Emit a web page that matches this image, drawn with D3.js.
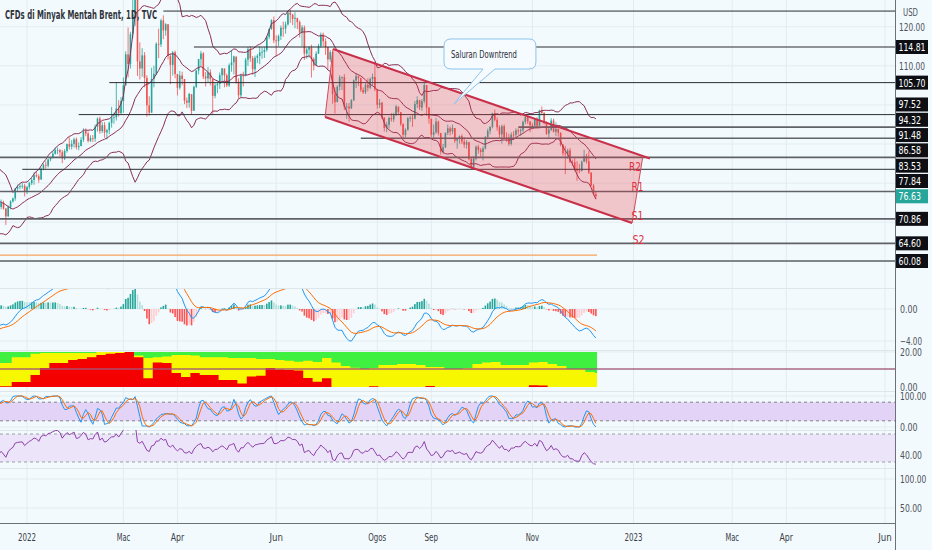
<!DOCTYPE html>
<html><head><meta charset="utf-8">
<script src="https://cdn.jsdelivr.net/npm/d3@7"></script>
<style>
html,body{margin:0;padding:0;background:#f3fafd;}
svg{display:block;font-family:"Liberation Sans Narrow","DejaVu Sans Condensed","Liberation Sans","Roboto",sans-serif;}
</style></head><body>
<svg id="c" width="932" height="550"></svg>
<script>
// ---------------- DATA ----------------
// closes used only to warm up indicators (Oct 18 - Dec 10 2021), not drawn
const warmup = [84.33,85.08,85.82,84.61,85.53,85.99,86.40,84.58,84.32,84.38,84.71,84.72,81.99,80.54,82.74,83.43,84.78,82.64,82.87,82.17,
82.05,82.43,80.28,81.24,78.89,79.70,82.31,82.25,82.2,72.72,73.44,70.57,68.87,69.67,69.88,73.08,75.44,75.82,75.15,75.15];
const firstOpen = 74.9;
// daily bars, Dec 13 2021 .. Dec 8 2022 (bar index 0..256)
const closes = [
74.4,73.7,73.9,75.0,73.5,71.5,73.9,75.3,76.1,78.6,79.0,79.2,79.3,77.8,
78.98,80.0,80.8,82.0,81.75,80.87,83.72,84.67,84.47,86.06,86.5,87.5,88.4,88.4,87.9,86.3,88.2,89.96,89.34,90.03,91.2,
89.2,89.5,91.1,93.3,92.7,90.8,91.55,91.4,94.4,96.5,93.3,94.8,92.97,93.54,95.4,96.8,96.84,99.08,97.9,100.99,
104.97,112.93,110.46,118.11,123.21,127.98,111.14,109.33,112.67,106.9,99.91,98.02,106.64,107.93,115.62,115.48,121.6,119.03,120.65,112.48,110.23,113.45,107.91,
104.39,107.53,106.64,101.07,100.58,102.78,98.48,104.64,108.78,111.70,113.16,107.25,106.8,108.33,106.65,102.32,104.99,105.32,107.59,109.34,
107.58,104.97,110.14,110.9,112.39,105.94,102.46,107.51,107.45,111.55,114.24,111.93,109.11,112.04,112.55,113.42,113.56,114.03,117.40,119.43,121.67,116.5,
116.29,117.61,119.72,119.51,120.57,123.58,123.07,122.01,122.27,121.17,118.51,119.81,113.12,114.13,114.65,111.74,110.05,113.12,115.09,117.98,116.26,114.81,
111.63,113.50,102.77,100.69,104.65,107.02,107.10,99.49,99.57,99.10,101.16,106.27,107.35,106.92,103.86,103.20,105.15,104.40,106.62,107.14,103.97,
100.03,100.54,96.78,94.12,94.92,96.65,96.31,97.40,99.60,98.15,95.10,92.34,93.65,96.59,96.72,96.48,100.22,101.22,99.34,100.99,105.09,99.31,96.49,
92.36,93.02,95.74,92.83,88.00,89.15,92.84,94.00,93.17,94.10,90.84,91.35,92.00,90.62,89.83,90.46,86.15,84.06,86.27,89.32,88.49,87.96,
88.86,91.80,93.37,94.42,97.92,96.19,94.29,92.45,94.57,91.63,91.62,90.03,92.41,92.38,93.50,93.26,93.52,95.69,96.96,95.77,94.83,
94.65,96.16,94.67,98.57,97.92,95.36,92.65,93.67,95.99,93.14,93.86,92.86,89.78,87.62,87.45,88.36,85.41,85.34,83.63,83.19,83.03,85.43,
86.88,85.57,82.68,79.35,77.17,76.63];
const highs = [
75.6,75.0,74.5,75.8,75.5,73.6,74.3,75.6,76.3,78.8,79.6,79.8,80.0,79.8,
79.3,80.3,81.3,82.8,83.0,82.3,84.0,85.0,85.6,86.2,86.7,88.1,89.1,89.1,88.7,88.5,88.7,90.1,91.7,91.0,91.6,
91.7,90.4,91.8,94.0,94.0,93.2,92.2,92.3,95.0,96.8,97.0,95.6,95.6,93.9,95.7,99.5,98.0,105.8,101.2,102.0,
107.0,113.7,119.8,118.7,139.1,131.6,124.6,116.0,114.5,113.5,107.6,102.2,109.5,110.0,116.0,119.5,122.0,122.9,120.9,120.5,113.0,113.8,113.9,
105.9,108.7,108.5,106.5,101.9,103.1,102.5,104.9,109.0,111.7,113.8,113.5,108.4,109.7,109.1,105.6,105.6,106.0,108.3,109.4,
109.0,108.0,110.6,114.0,112.6,112.0,106.8,108.0,108.5,112.0,114.8,115.0,112.5,112.6,113.0,115.0,114.7,114.8,117.6,119.5,121.9,122.6,
117.8,118.0,120.3,121.3,121.3,124.0,124.4,123.3,123.7,122.0,121.6,120.4,120.3,114.6,115.0,115.4,112.2,113.7,115.6,118.5,118.5,117.0,
114.8,114.0,113.5,104.5,105.0,107.6,107.3,107.9,100.5,100.5,101.5,106.5,108.0,107.5,106.3,104.5,105.6,106.8,107.0,108.0,110.6,
103.9,101.5,100.8,96.8,95.6,97.0,97.9,98.0,100.0,99.4,98.1,95.3,94.0,96.9,97.2,97.6,101.0,102.2,101.3,101.5,105.6,104.6,99.5,
95.6,95.0,96.7,96.0,92.5,90.0,93.0,95.0,94.5,95.0,94.0,91.6,92.2,92.5,91.8,91.0,90.6,86.7,86.9,89.6,89.8,89.0,
89.4,92.0,93.9,94.5,98.0,98.8,96.8,94.8,94.9,95.0,93.0,92.6,93.0,93.3,94.0,94.0,94.0,96.0,97.0,97.3,95.8,
95.4,96.5,96.9,98.8,99.6,98.2,95.8,94.4,96.6,96.5,95.5,94.0,93.0,90.0,89.5,88.8,89.0,86.0,86.5,85.6,84.9,85.8,
88.5,87.5,88.2,82.8,79.8,77.8];
const lows = [
73.8,72.9,72.7,73.3,73.2,69.3,71.4,73.3,75.0,75.5,78.0,78.4,78.6,76.6,
77.2,78.4,79.5,79.6,81.4,80.1,81.0,83.3,83.7,84.0,85.6,86.3,87.3,87.4,86.8,85.1,85.9,87.8,88.6,88.6,89.1,
88.6,88.4,89.4,90.5,92.0,90.4,90.5,90.5,90.6,93.2,92.6,92.8,91.6,91.2,92.5,94.2,95.2,96.0,97.0,97.5,
98.0,105.3,107.0,109.3,117.0,120.2,107.4,106.5,107.2,104.5,97.0,97.3,98.0,104.5,107.6,112.0,114.8,116.8,117.7,111.6,105.3,107.5,106.8,
102.4,103.9,105.0,100.2,99.2,99.3,97.5,98.6,104.3,107.8,110.0,106.6,104.7,105.7,105.0,97.7,101.7,103.0,104.1,106.0,
104.5,104.6,104.6,108.5,107.8,105.4,101.7,101.9,104.7,107.3,110.0,111.0,107.7,107.1,110.7,110.4,111.8,112.0,113.6,116.8,119.2,115.8,
112.5,115.0,116.6,117.4,118.2,120.3,121.0,120.4,119.6,119.4,117.2,115.0,111.5,111.8,112.1,107.0,108.8,110.6,113.0,114.6,115.0,112.8,
109.0,111.0,100.3,97.8,100.8,103.7,103.8,98.7,96.4,95.7,99.0,101.0,104.3,104.8,103.3,102.8,102.8,103.5,104.0,105.0,103.5,
99.0,99.2,96.4,93.2,93.0,94.0,95.7,95.6,97.2,97.4,94.6,91.5,91.6,93.4,95.7,94.4,96.3,99.2,98.7,98.5,100.4,97.2,95.2,
91.7,91.5,92.6,92.2,87.3,87.5,89.0,92.3,92.2,92.5,90.3,88.8,90.1,90.0,89.0,88.8,85.8,83.6,84.6,85.8,87.5,86.8,
85.8,88.6,91.2,92.5,94.0,95.8,93.4,91.6,90.1,91.4,90.6,89.5,89.6,91.0,91.3,92.4,92.1,93.0,95.1,95.1,93.0,
94.0,94.6,94.3,94.6,97.4,95.0,92.3,91.4,93.3,92.9,92.0,91.9,89.4,87.0,82.3,86.2,85.1,84.4,83.0,80.6,82.5,83.6,
85.5,85.0,82.3,79.2,76.9,76.0];

// sentiment pane, one value per group of 4 bars (0..20 scale)
const sentGroup = 4;
const sentRed = [0.5,0.5,2.9,2.9,6.9,10.9,13.7,13.7,15.4,16,
17,18.3,19,19.4,20,17,5,14,13.7,8,
5.7,8,6.9,6.9,4,4,2,6,6.5,10.9,
10,9.7,9.5,5.1,3,5,0,0,0,0,
0.5,0,0,0,0,0,0.6,0,0,0,
0,0,0,0,0,0,0,1,0.8,0,
0,0,0,0,0];
const sentYellow = [13.7,13.7,17,17,19,19.4,19.4,19.4,19.4,19.4,
19.4,20,20,20,20,18,16.6,17,17.5,18.3,
18.3,18,17,17,17,16.6,16.6,16.6,16,16,
15.5,15,14.5,15,14.3,16.6,14,12,11,10.3,
10.9,12.6,12.6,13.1,13.1,12.6,11.4,11.4,10.3,10.3,
10.9,13.1,14,14.3,12.6,12.6,12.6,14,14.3,13.1,
12,10.3,10.3,8.6,8];
const sentLevel = 10.3;

// time axis (bar index of each label)
const timeTickIdx = [14,55,78,120,163,186,229,272,314,337,379];
const timeTickLab = ["2022","Mac","Apr","Jun","Ogos","Sep","Nov","2023","Mac","Apr","Jun"];

// drawn horizontal levels: price, start bar index, heavy style
const levelPrice = [124.0,114.81,105.70,97.52,94.32,91.48,86.58,83.53,77.84,70.86,64.60,60.08];
const levelStart = [72,85,49,36,223,156,-6,12,-6,-6,-6,-6];
const levelHeavy = [0,0,0,0,1,1,1,0,1,1,1,1];
const levelLabeled = [0,1,1,1,1,1,1,1,1,1,1,1];
const orangeLevel = 61.6;

// channel corners (bar index, price)
const channelIdx = [144.2,276.0,271.4,140.8];
const channelPx = [114.3,86.93,69.8,96.9];
const channelTail = [279,86.3];

const rsText = ["R2","R1","S1","S2"];
const rsIdx = [272.6,273.7,273.7,274.1];
const rsPx = [83.1,77.98,70.56,64.43];

// callout: left, right idx; top, bottom price; tail base idx; tip
const callBox = [191.4,230.5,116.86,109.18];
const callTail = [208.0,213.1,195.6,100.23];
const callText = "Saluran Downtrend";
const callTextPos = [208.4,112.0];

const priceGrid = [120,110,100,90,80,70,60];
const title = "CFDs di Minyak Mentah Brent, 1D, TVC";

// ---------------- SETUP ----------------
const W=932,H=550,PR=895,N=closes.length;
const svg=d3.select("#c");
const BG="#f3fafd", GRID="#e2ecf0";
svg.append("rect").attr("width",W).attr("height",H).attr("fill",BG);

const xs=d3.scaleLinear().domain([14,379]).range([27,885]);
const yP=d3.scaleLinear().domain([114.81,60.08]).range([47,261]);
const yM=d3.scaleLinear().domain([0,-4]).range([309,341]);
const yS=d3.scaleLinear().domain([0,20]).range([387,352]);
const yK=d3.scaleLinear().domain([0,100]).range([427,396]);
const yR=d3.scaleLinear().domain([30,70]).range([462,434]);
const yE=d3.scaleLinear().domain([50,100]).range([508,479]);

const defs=svg.append("defs");
function clip(id,y0,y1){defs.append("clipPath").attr("id",id).append("rect").attr("x",0).attr("y",y0).attr("width",PR).attr("height",y1-y0);}
clip("cp",0,287);clip("cm",289,350);clip("ck",391,430);clip("cr",430,468);

// ---------------- INDICATORS ----------------
const all=warmup.concat(closes), W0=warmup.length;
function sma(a,n){return a.map((v,i)=>{if(i<n-1)return null;let s=0;for(let j=i-n+1;j<=i;j++){if(a[j]==null)return null;s+=a[j];}return s/n;});}
function stdev(a,n){return a.map((v,i)=>{if(i<n-1)return null;const w=a.slice(i-n+1,i+1);const m=d3.mean(w);return Math.sqrt(d3.mean(w,x=>(x-m)*(x-m)));});}
function ema(a,n){const k=2/(n+1);let prev=null;const buf=[];return a.map(v=>{if(v==null)return null;if(prev==null){buf.push(v);if(buf.length===n){prev=d3.mean(buf);return prev;}return null;}prev=v*k+prev*(1-k);return prev;});}
function rsiF(a,n){const out=[null];let ag=0,al=0;for(let i=1;i<a.length;i++){const ch=a[i]-a[i-1],g=Math.max(ch,0),l=Math.max(-ch,0);if(i<=n){ag+=g/n;al+=l/n;out.push(i===n?(al===0?100:100-100/(1+ag/al)):null);}else{ag=(ag*(n-1)+g)/n;al=(al*(n-1)+l)/n;out.push(al===0?100:100-100/(1+ag/al));}}return out;}
const basis=sma(all,20), sd=stdev(all,20);
const bbU=basis.map((b,i)=>b==null?null:b+2*sd[i]), bbL=basis.map((b,i)=>b==null?null:b-2*sd[i]);
const e12=ema(all,12),e26=ema(all,26);
const macd=all.map((v,i)=>e12[i]==null||e26[i]==null?null:e12[i]-e26[i]);
const sig=ema(macd,9);
const hist=macd.map((m,i)=>m==null||sig[i]==null?null:m-sig[i]);
const rsi=rsiF(all,14);
const stoch=rsi.map((r,i)=>{if(i<13)return null;const w=rsi.slice(i-13,i+1);if(w.some(v=>v==null))return null;const lo=d3.min(w),hi=d3.max(w);return hi===lo?0:(r-lo)/(hi-lo)*100;});
const kS=sma(stoch,3), dS=sma(kS,3);
const cut=a=>a.slice(W0);
const B_U=cut(bbU),B_M=cut(basis),B_L=cut(bbL),MACD=cut(macd),SIG=cut(sig),HIST=cut(hist),RSI=cut(rsi),K=cut(kS),D=cut(dS);
const HISTprev=hist.slice(W0-1,W0-1+N);

// ---------------- GRID ----------------
const g=svg.append("g");
g.selectAll(".vg").data(timeTickIdx).join("line").attr("x1",d=>xs(d)).attr("x2",d=>xs(d)).attr("y1",0).attr("y2",523).attr("stroke",GRID);
g.selectAll(".hg").data(priceGrid).join("line").attr("x1",0).attr("x2",PR).attr("y1",d=>yP(d)).attr("y2",d=>yP(d)).attr("stroke",GRID);
const paneGrid=[yM(0),yM(-4),yS(20),yK(100),yK(0),yR(40),yE(100),yE(50)];
g.selectAll(".pg").data(paneGrid).join("line").attr("x1",0).attr("x2",PR).attr("y1",d=>d).attr("y2",d=>d).attr("stroke",GRID);
const seps=[288,350,391,430,468];
g.selectAll(".sp").data(seps).join("line").attr("x1",0).attr("x2",PR).attr("y1",d=>d+0.5).attr("y2",d=>d+0.5).attr("stroke","#dde6ea");

// ---------------- PRICE PANE ----------------
const pp=svg.append("g").attr("clip-path","url(#cp)");
const opens=closes.map((c,i)=>i===0?firstOpen:closes[i-1]);
const UP="#26a69a",DN="#ef5350";
const bars=d3.range(N);
pp.selectAll(".wk").data(bars).join("line")
 .attr("x1",i=>xs(i)).attr("x2",i=>xs(i)).attr("y1",i=>yP(highs[i])).attr("y2",i=>yP(lows[i]))
 .attr("stroke",i=>closes[i]>=opens[i]?UP:DN).attr("stroke-width",0.8);
pp.selectAll(".bd").data(bars).join("rect")
 .attr("x",i=>xs(i)-0.8).attr("width",1.6)
 .attr("y",i=>yP(Math.max(opens[i],closes[i])))
 .attr("height",i=>Math.max(0.8,Math.abs(yP(opens[i])-yP(closes[i]))))
 .attr("fill",i=>closes[i]>=opens[i]?UP:DN);

const lineOf=(arr,ys)=>d3.line().defined((d,i)=>arr[i]!=null).x((d,i)=>xs(i)).y((d,i)=>ys(arr[i]));
[B_U,B_M,B_L].forEach(a=>pp.append("path").datum(a).attr("d",lineOf(a,yP)).attr("fill","none").attr("stroke","#8b2f56").attr("stroke-width",1));

// horizontal levels
const lv=d3.range(levelPrice.length);
pp.selectAll(".lv").data(lv).join("line")
 .attr("x1",i=>Math.max(0,xs(levelStart[i]))).attr("x2",PR)
 .attr("y1",i=>yP(levelPrice[i])).attr("y2",i=>yP(levelPrice[i]))
 .attr("stroke",i=>levelHeavy[i]?"#5f6268":"#2a2d33").attr("stroke-width",i=>levelHeavy[i]?1.6:1);
pp.append("line").attr("x1",0).attr("x2",xs(N-0.5)).attr("y1",yP(orangeLevel)).attr("y2",yP(orangeLevel)).attr("stroke","#f7a35c").attr("stroke-width",1.2);

// channel
const cpts=channelIdx.map((v,i)=>[xs(v),yP(channelPx[i])]);
pp.append("polygon").attr("points",cpts.map(p=>p.join(",")).join(" ")).attr("fill","rgba(232,60,72,0.27)").attr("stroke","none");
pp.append("line").attr("x1",cpts[0][0]).attr("y1",cpts[0][1]).attr("x2",xs(channelTail[0])).attr("y2",yP(channelTail[1])).attr("stroke","#c8304a").attr("stroke-width",2);
pp.append("line").attr("x1",cpts[3][0]).attr("y1",cpts[3][1]).attr("x2",cpts[2][0]).attr("y2",cpts[2][1]).attr("stroke","#c8304a").attr("stroke-width",2);
pp.append("line").attr("x1",cpts[0][0]).attr("y1",cpts[0][1]).attr("x2",cpts[3][0]).attr("y2",cpts[3][1]).attr("stroke","#d24a5e").attr("stroke-width",1);
pp.append("line").attr("x1",cpts[1][0]).attr("y1",cpts[1][1]).attr("x2",cpts[2][0]).attr("y2",cpts[2][1]).attr("stroke","#d24a5e").attr("stroke-width",1);

// R/S labels
pp.selectAll(".rs").data(d3.range(rsText.length)).join("text")
 .attr("x",i=>xs(rsIdx[i])).attr("y",i=>yP(rsPx[i])).attr("text-anchor","middle")
 .attr("font-size",12).attr("fill","#e0303c").attr("textLength",12).attr("lengthAdjust","spacingAndGlyphs").text(i=>rsText[i]);

// callout
{
 const L=xs(callBox[0]),R=xs(callBox[1]),T=yP(callBox[2]),Bm=yP(callBox[3]),r=7;
 const t1=xs(callTail[0]),t2=xs(callTail[1]),tx=xs(callTail[2]),ty=yP(callTail[3]);
 const p=d3.path();
 p.moveTo(L+r,T);p.lineTo(R-r,T);p.quadraticCurveTo(R,T,R,T+r);p.lineTo(R,Bm-r);p.quadraticCurveTo(R,Bm,R-r,Bm);
 p.lineTo(t2,Bm);p.lineTo(tx,ty);p.lineTo(t1,Bm);p.lineTo(L+r,Bm);p.quadraticCurveTo(L,Bm,L,Bm-r);p.lineTo(L,T+r);p.quadraticCurveTo(L,T,L+r,T);p.closePath();
 pp.append("path").attr("d",p.toString()).attr("fill","#f5fbfe").attr("stroke","#8fc3ea").attr("stroke-width",1);
 pp.append("text").attr("x",xs(callTextPos[0])).attr("y",yP(callTextPos[1])).attr("text-anchor","middle").attr("font-size",11)
  .attr("fill","#2b2f38").attr("textLength",66).attr("lengthAdjust","spacingAndGlyphs").text(callText);
}

// ---------------- MACD PANE ----------------
const pm=svg.append("g").attr("clip-path","url(#cm)");
pm.selectAll(".hb").data(bars.filter(i=>HIST[i]!=null)).join("rect")
 .attr("x",i=>xs(i)-0.8).attr("width",1.6)
 .attr("y",i=>Math.min(yM(0),yM(HIST[i]))).attr("height",i=>Math.abs(yM(HIST[i])-yM(0)))
 .attr("fill",i=>{const h=HIST[i],pv=HISTprev[i];const rising=pv==null?true:h>pv;return h>=0?(rising?"#26a69a":"#b2dfdb"):(rising?"#ffcdd2":"#ff5252");});
pm.append("path").datum(MACD).attr("d",lineOf(MACD,yM)).attr("fill","none").attr("stroke","#2196f3").attr("stroke-width",1);
pm.append("path").datum(SIG).attr("d",lineOf(SIG,yM)).attr("fill","none").attr("stroke","#ff6d00").attr("stroke-width",1);

// ---------------- SENTIMENT PANE ----------------
const ps=svg.append("g");
const G=sentRed.length;
const sx=gi=>xs(gi*sentGroup-0.5);
const sPts=d3.range(G+1).map(gi=>({x:Math.min(sx(gi),xs(N-0.5)),r:sentRed[Math.min(gi,G-1)],y:sentYellow[Math.min(gi,G-1)]}));
ps.append("rect").attr("x",Math.max(0,sx(0))).attr("width",xs(N-0.5)-Math.max(0,sx(0))).attr("y",yS(20)).attr("height",yS(0)-yS(20)).attr("fill","#3ff041");
ps.append("path").datum(sPts).attr("d",d3.area().curve(d3.curveStepAfter).x(d=>d.x).y0(yS(0)).y1(d=>yS(d.y))).attr("fill","#f7f700");
ps.append("path").datum(sPts).attr("d",d3.area().curve(d3.curveStepAfter).x(d=>d.x).y0(yS(0)).y1(d=>yS(d.r))).attr("fill","#f50000");
ps.append("line").attr("x1",0).attr("x2",PR).attr("y1",yS(sentLevel)).attr("y2",yS(sentLevel)).attr("stroke","#a0597a").attr("stroke-width",1.5).attr("opacity",0.9);

// ---------------- STOCH RSI PANE ----------------
svg.append("rect").attr("x",0).attr("width",PR).attr("y",yK(80)).attr("height",yK(20)-yK(80)).attr("fill","#e2d3f7");
[80,20].forEach(v=>svg.append("line").attr("x1",0).attr("x2",PR).attr("y1",yK(v)).attr("y2",yK(v)).attr("stroke","#80838d").attr("stroke-dasharray","3,3"));
const pk=svg.append("g").attr("clip-path","url(#ck)");
pk.append("path").datum(K).attr("d",lineOf(K,yK)).attr("fill","none").attr("stroke","#2196f3").attr("stroke-width",1);
pk.append("path").datum(D).attr("d",lineOf(D,yK)).attr("fill","none").attr("stroke","#ff6d00").attr("stroke-width",1);

// ---------------- RSI PANE ----------------
svg.append("rect").attr("x",0).attr("width",PR).attr("y",yR(70)).attr("height",yR(30)-yR(70)).attr("fill","#ece5fa");
[70,30].forEach(v=>svg.append("line").attr("x1",0).attr("x2",PR).attr("y1",yR(v)).attr("y2",yR(v)).attr("stroke","#9a9da6").attr("stroke-dasharray","3,3"));
const pr=svg.append("g").attr("clip-path","url(#cr)");
pr.append("path").datum(RSI).attr("d",lineOf(RSI,yR)).attr("fill","none").attr("stroke","#8e3fa8").attr("stroke-width",1);

// ---------------- AXES ----------------
svg.append("rect").attr("x",PR).attr("y",0).attr("width",W-PR).attr("height",H).attr("fill",BG);
svg.append("line").attr("x1",PR+0.5).attr("x2",PR+0.5).attr("y1",0).attr("y2",H).attr("stroke","#6d7079");
svg.append("line").attr("x1",0).attr("x2",PR).attr("y1",523.5).attr("y2",523.5).attr("stroke","#6d7079");

const AX="#4e525c";
svg.selectAll(".tl").data(d3.range(timeTickIdx.length)).join("text")
 .attr("x",i=>xs(timeTickIdx[i])).attr("y",541).attr("text-anchor","middle").attr("font-size",10.5).attr("fill","#3a3e47")
 .attr("textLength",i=>timeTickLab[i].length*4.5).attr("lengthAdjust","spacingAndGlyphs").text(i=>timeTickLab[i]);

// price boxes with stacking
const boxes=lv.filter(i=>levelLabeled[i]).map(i=>({p:levelPrice[i],c:"#0d0f14"}));
boxes.push({p:closes[N-1],c:"#26a69a"});
boxes.sort((a,b)=>a.p-b.p);
let prevY=1e9;
boxes.forEach(b=>{b.y=Math.min(yP(b.p),prevY-15.3);prevY=b.y;});
const fmt=d3.format(".2f");
const bx=svg.append("g");
bx.selectAll("rect").data(boxes).join("rect").attr("x",PR+1).attr("y",d=>d.y-7).attr("width",32).attr("height",14).attr("fill",d=>d.c);
bx.selectAll("text").data(boxes).join("text").attr("x",PR+3.5).attr("y",d=>d.y+4).attr("font-size",10).attr("fill","#fff")
 .attr("textLength",d=>fmt(d.p).length*4.5).attr("lengthAdjust","spacingAndGlyphs").text(d=>fmt(d.p));

const freeTicks=priceGrid.filter(p=>boxes.every(b=>Math.abs(b.y-yP(p))>9));
svg.selectAll(".pt").data(freeTicks).join("text").attr("x",PR+4).attr("y",d=>yP(d)+4).attr("font-size",10).attr("fill",AX)
 .attr("textLength",26).attr("lengthAdjust","spacingAndGlyphs").text(d=>fmt(d));
svg.append("text").attr("x",PR+8).attr("y",16).attr("font-size",10).attr("fill",AX).attr("textLength",15).attr("lengthAdjust","spacingAndGlyphs").text("USD");

const paneLabels=[[yM(0),0],[yM(-4),-4],[yS(20),20],[yS(0),0],[yK(100),100],[yK(0),0],[yR(40),40],[yE(100),100],[yE(50),50]];
svg.selectAll(".pl").data(paneLabels).join("text").attr("x",PR+5).attr("y",d=>d[0]+4).attr("font-size",10).attr("fill",AX)
 .attr("textLength",d=>fmt(d[1]).length*4.4).attr("lengthAdjust","spacingAndGlyphs").text(d=>fmt(d[1]));

// title
svg.append("text").attr("x",5).attr("y",19).attr("font-size",12).attr("font-weight",600).attr("fill","#30333b")
 .attr("textLength",152).attr("lengthAdjust","spacingAndGlyphs").text(title);
</script>
</body></html>
